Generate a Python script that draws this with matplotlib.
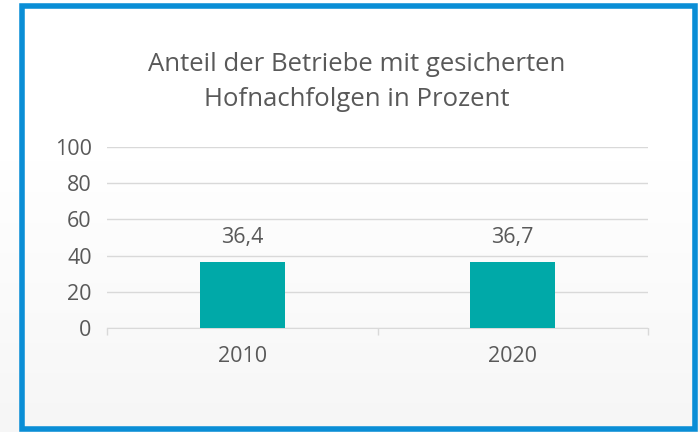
import numpy as np
import matplotlib.pyplot as plt
from matplotlib.patches import Rectangle

# Werte aus dem Diagramm
years = ["2010", "2020"]
shares = [36.4, 36.7]
value_labels = ["36,4", "36,7"]
y_ticks = [0, 20, 40, 60, 80, 100]

TEXT = "#595959"
GRID = "#d9d9d9"
BAR = "#00a9a8"
BLUE = "#0a8ed6"

plt.rcParams["font.family"] = ["Open Sans", "DejaVu Sans"]

fig = plt.figure(figsize=(7, 4.32), dpi=100)

# background with light gradient towards the bottom
bg = fig.add_axes([0, 0, 1, 1], zorder=-10)
grad = np.linspace(0.965, 1.0, 256).reshape(-1, 1)
grad = np.clip((grad - 0.965) / 0.035 * 1.6, 0, 1) * 0.035 + 0.965
bg.imshow(np.dstack([grad] * 3), aspect="auto", extent=[0, 1, 0, 1], origin="lower")
bg.set_xlim(0, 1)
bg.set_ylim(0, 1)
bg.axis("off")
bg.add_patch(Rectangle((22.5 / 700, 3.5 / 432), 672 / 700, 423 / 432,
                       fill=False, edgecolor=BLUE, linewidth=4))

ax = fig.add_axes([107 / 700, 104 / 432, 541 / 700, 181 / 432])
ax.patch.set_alpha(0)
x = np.arange(len(years))
bars = ax.bar(x, shares, width=0.315, color=BAR, zorder=3)
for b, lab in zip(bars, value_labels):
    ax.text(b.get_x() + b.get_width() / 2, b.get_height() + 13.5, lab,
            ha="center", va="center", fontsize=15.5, color=TEXT)

ax.set_xlim(-0.5, 1.5)
ax.set_ylim(0, 100)
ax.set_yticks(y_ticks)
ax.set_yticklabels([str(t) for t in y_ticks])
ax.set_xticks(x)
ax.set_xticklabels(years)
ax.tick_params(axis="y", length=0, labelsize=15.5, labelcolor=TEXT, pad=11)
ax.tick_params(axis="x", length=0, labelsize=15.5, labelcolor=TEXT, pad=13)
ax.set_xticks([-0.5, 0.5, 1.5], minor=True)
ax.tick_params(axis="x", which="minor", length=5, color=GRID, width=1)
ax.yaxis.grid(True, color=GRID, linewidth=1)
ax.set_axisbelow(True)
for s in ["top", "right", "left"]:
    ax.spines[s].set_visible(False)
ax.spines["bottom"].set_color(GRID)

fig.text(357 / 700, 1 - 82 / 432, "Anteil der Betriebe mit gesicherten\nHofnachfolgen in Prozent",
         ha="center", va="center", fontsize=18.5, color=TEXT, linespacing=1.5)

fig.savefig("out.png", dpi=100)
